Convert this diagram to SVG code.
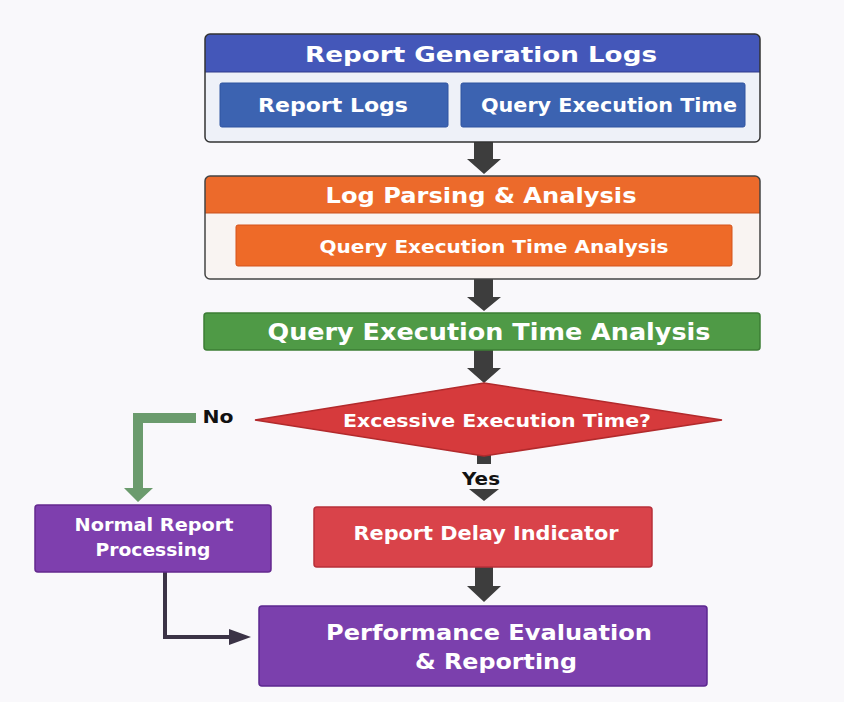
<svg xmlns="http://www.w3.org/2000/svg" width="844" height="702" viewBox="0 0 844 702">
<defs>
<style>
text{font-family:"DejaVu Sans","Open Sans",sans-serif;font-weight:700;fill:#fff;text-anchor:middle;}
.h{font-size:22px;}
.s{font-size:19px;}
.lbl{fill:#111;font-size:17px;}
.dark{fill:#3d3d3d;}
</style>
</defs>
<rect width="844" height="702" fill="#f9f8fb"/>
<g id="connectors">
<polygon class="dark" points="474,142 493,142 493,159 501,159 484,174 467,159 474,159"/>
<polygon class="dark" points="474,279 493,279 493,297 501,297 484,311 467,297 474,297"/>
<polygon class="dark" points="474,350 493,350 493,368 501,368 484,383 467,368 474,368"/>
<rect class="dark" x="477" y="453" width="14" height="11"/>
<polygon class="dark" points="469,489 499,489 484,501"/>
<polygon class="dark" points="475,567 493,567 493,586 501,586 484,602 467,586 475,586"/>
<polygon fill="#6b9b6d" points="196,413 196,423 143,423 143,488 153,488 138,502 124,488 133,488 133,413"/>
<path d="M165,572 V637 H234" fill="none" stroke="#3b3346" stroke-width="4"/>
<polygon fill="#3b3346" points="229,629 251,637 229,645"/>
</g>
<g id="report-generation-logs">
<rect x="205" y="34" width="555" height="108" rx="5" fill="#eef1f8"/>
<path d="M205,72 V39 a5,5 0 0 1 5,-5 H755 a5,5 0 0 1 5,5 V72 Z" fill="#4457b9"/>
<line x1="205" y1="72" x2="760" y2="72" stroke="#2e3a8a" stroke-width="1"/>
<rect x="205" y="34" width="555" height="108" rx="5" fill="none" stroke="#333" stroke-width="1.5"/>
<text class="h" x="481" y="62" textLength="352" lengthAdjust="spacingAndGlyphs">Report Generation Logs</text>
</g>
<g id="report-logs">
<rect x="220" y="83" width="228" height="44" rx="2" fill="#3c63b1" stroke="#2f54a0"/>
<text class="s" x="333" y="112" font-size="20" style="font-size:20px" textLength="150" lengthAdjust="spacingAndGlyphs">Report Logs</text>
</g>
<g id="query-execution-time">
<rect x="461" y="83" width="284" height="44" rx="2" fill="#3c63b1" stroke="#2f54a0"/>
<text class="s" x="609" y="112" style="font-size:20px" textLength="256" lengthAdjust="spacingAndGlyphs">Query Execution Time</text>
</g>
<g id="log-parsing">
<rect x="205" y="176" width="555" height="103" rx="5" fill="#f9f4f2"/>
<path d="M205,213 V181 a5,5 0 0 1 5,-5 H755 a5,5 0 0 1 5,5 V213 Z" fill="#ec6a2b"/>
<line x1="205" y1="213" x2="760" y2="213" stroke="#c9501c" stroke-width="1"/>
<rect x="205" y="176" width="555" height="103" rx="5" fill="none" stroke="#444" stroke-width="1.5"/>
<text class="h" x="481" y="203" textLength="311" lengthAdjust="spacingAndGlyphs">Log Parsing &amp; Analysis</text>
</g>
<g id="qeta-inner">
<rect x="236" y="225" width="496" height="41" rx="2" fill="#ee6a28" stroke="#d4521a"/>
<text class="s" x="494" y="253" style="font-size:18px" textLength="349" lengthAdjust="spacingAndGlyphs">Query Execution Time Analysis</text>
</g>
<g id="qeta">
<rect x="204" y="313" width="556" height="37" rx="3" fill="#4f9a46" stroke="#3c7d35" stroke-width="1.5"/>
<text class="h" x="489" y="340" style="font-size:23px" textLength="443" lengthAdjust="spacingAndGlyphs">Query Execution Time Analysis</text>
</g>
<g id="decision">
<polygon points="484,383 722,420 484,456 255,420" fill="#d63a3c" stroke="#b22a2c" stroke-width="1.5"/>
<text class="s" x="497" y="427" style="font-size:18px" textLength="308" lengthAdjust="spacingAndGlyphs">Excessive Execution Time?</text>
<text class="lbl" x="218" y="423" textLength="31" lengthAdjust="spacingAndGlyphs">No</text>
<text class="lbl" x="481" y="485" textLength="38" lengthAdjust="spacingAndGlyphs">Yes</text>
</g>
<g id="normal-report">
<rect x="35" y="505" width="236" height="67" rx="3" fill="#7e3fae" stroke="#64298f" stroke-width="1.5"/>
<text class="s" x="154" y="531" style="font-size:17px" textLength="159" lengthAdjust="spacingAndGlyphs">Normal Report</text>
<text class="s" x="153" y="556" style="font-size:17px" textLength="115" lengthAdjust="spacingAndGlyphs">Processing</text>
</g>
<g id="report-delay">
<rect x="314" y="507" width="338" height="60" rx="3" fill="#d9434a" stroke="#b8303a" stroke-width="1.5"/>
<text class="s" x="486" y="540" textLength="265" lengthAdjust="spacingAndGlyphs">Report Delay Indicator</text>
</g>
<g id="performance">
<rect x="259" y="606" width="448" height="80" rx="3" fill="#7b40ad" stroke="#5c2790" stroke-width="1.5"/>
<text class="h" x="489" y="640" textLength="326" lengthAdjust="spacingAndGlyphs">Performance Evaluation</text>
<text class="h" x="496" y="669" textLength="162" lengthAdjust="spacingAndGlyphs">&amp; Reporting</text>
</g>
</svg>
